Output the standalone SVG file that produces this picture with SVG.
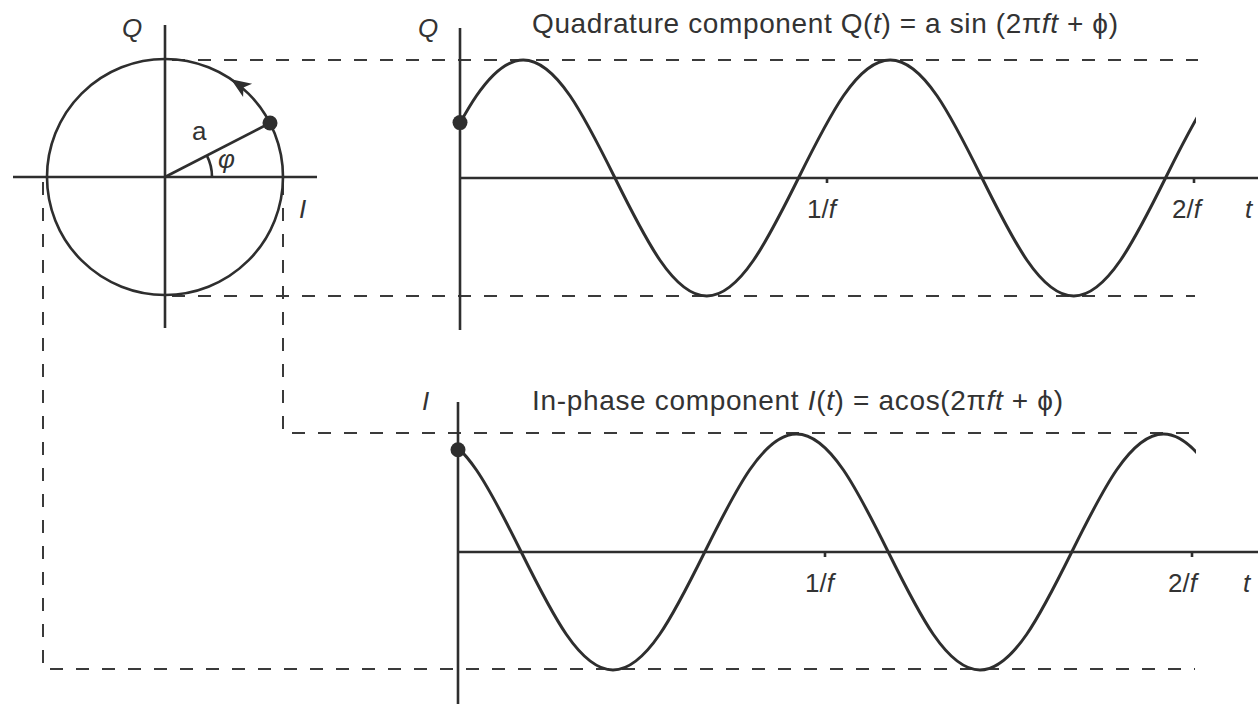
<svg xmlns="http://www.w3.org/2000/svg" width="1258" height="704" viewBox="0 0 1258 704">
<defs>
<style>
.ax{stroke:#2e2e2e;stroke-width:2.6;fill:none}
.wave{stroke:#2e2e2e;stroke-width:3;fill:none}
.dash{stroke:#3a3a3a;stroke-width:2;fill:none;stroke-dasharray:13 13}
.dot{fill:#2e2e2e}
text{font-family:"Liberation Sans",Arial,sans-serif;font-size:26px;fill:#333}
.title{font-size:28px}
.it{font-style:italic}
</style>
<clipPath id="clipQ"><rect x="460" y="0" width="736" height="340"/></clipPath>
<clipPath id="clipI"><rect x="458" y="380" width="738" height="324"/></clipPath>
</defs>
<rect width="1258" height="704" fill="#fff"/>

<g id="connectors">
<path class="dash" d="M172,60 H1198"/>
<path class="dash" d="M172,296 H1195"/>
<path class="dash" d="M283,182 V433 H1195"/>
<path class="dash" d="M43,182 V669 H1195"/>
</g>

<g id="phasor">
<line class="ax" x1="13" y1="177" x2="317" y2="177"/>
<line class="ax" x1="165" y1="25" x2="165" y2="328"/>
<circle class="ax" cx="165" cy="177" r="118"/>
<line class="ax" x1="165" y1="177" x2="270" y2="123"/>
<path class="ax" stroke-width="2" d="M212,177 A47,47 0 0 0 206.9,155.7"/>
<polygon class="dot" points="231,79.2 252.1,83.8 243.4,87.6 243.1,97"/>
<circle class="dot" cx="270" cy="123" r="7.5"/>
<text class="it" x="122" y="37">Q</text>
<text x="192" y="140">a</text>
<text class="it" x="218" y="168" font-size="24">φ</text>
<text class="it" x="299" y="218">I</text>
</g>

<g id="q-graph">
<line class="ax" x1="460" y1="28" x2="460" y2="330"/>
<line class="ax" x1="460" y1="178" x2="1258" y2="178"/>
<line class="ax" stroke-width="2" x1="827" y1="178" x2="827" y2="183"/>
<line class="ax" stroke-width="2" x1="1194" y1="178" x2="1194" y2="183"/>
<path class="wave" clip-path="url(#clipQ)" d="M431.5,178 c30.67,-61.96 58.73,-118 91.75,-118 s61.08,56.04 91.75,118 s58.73,118 91.75,118 s61.08,-56.04 91.75,-118 s58.73,-118 91.75,-118 s61.08,56.04 91.75,118 s58.73,118 91.75,118 s61.08,-56.04 91.75,-118 s58.73,-118 91.75,-118"/>
<circle class="dot" cx="460" cy="122.6" r="7.5"/>
<text class="it" x="418" y="37">Q</text>
<text class="title" x="532" y="33" textLength="586" lengthAdjust="spacing">Quadrature component Q(<tspan class="it">t</tspan>) = a sin (2π<tspan class="it">ft</tspan> + ϕ)</text>
<text x="807" y="218">1/<tspan class="it">f</tspan></text>
<text x="1172" y="218">2/<tspan class="it">f</tspan></text>
<text class="it" x="1245" y="218">t</text>
</g>

<g id="i-graph">
<line class="ax" x1="458" y1="402" x2="458" y2="704"/>
<line class="ax" x1="458" y1="552" x2="1258" y2="552"/>
<line class="ax" stroke-width="2" x1="825" y1="552" x2="825" y2="557"/>
<line class="ax" stroke-width="2" x1="1192" y1="552" x2="1192" y2="557"/>
<path class="wave" clip-path="url(#clipI)" d="M429.5,434 c33.02,0 61.08,56.04 91.75,118 s58.73,118 91.75,118 s61.08,-56.04 91.75,-118 s58.73,-118 91.75,-118 s61.08,56.04 91.75,118 s58.73,118 91.75,118 s61.08,-56.04 91.75,-118 s58.73,-118 91.75,-118 s61.08,56.04 91.75,118"/>
<circle class="dot" cx="458" cy="449.8" r="7.5"/>
<text class="it" x="422" y="410">I</text>
<text class="title" x="532" y="410" textLength="531" lengthAdjust="spacing">In-phase component <tspan class="it">I</tspan>(<tspan class="it">t</tspan>) = acos(2π<tspan class="it">ft</tspan> + ϕ)</text>
<text x="805" y="592">1/<tspan class="it">f</tspan></text>
<text x="1168" y="592">2/<tspan class="it">f</tspan></text>
<text class="it" x="1243" y="592">t</text>
</g>
</svg>
